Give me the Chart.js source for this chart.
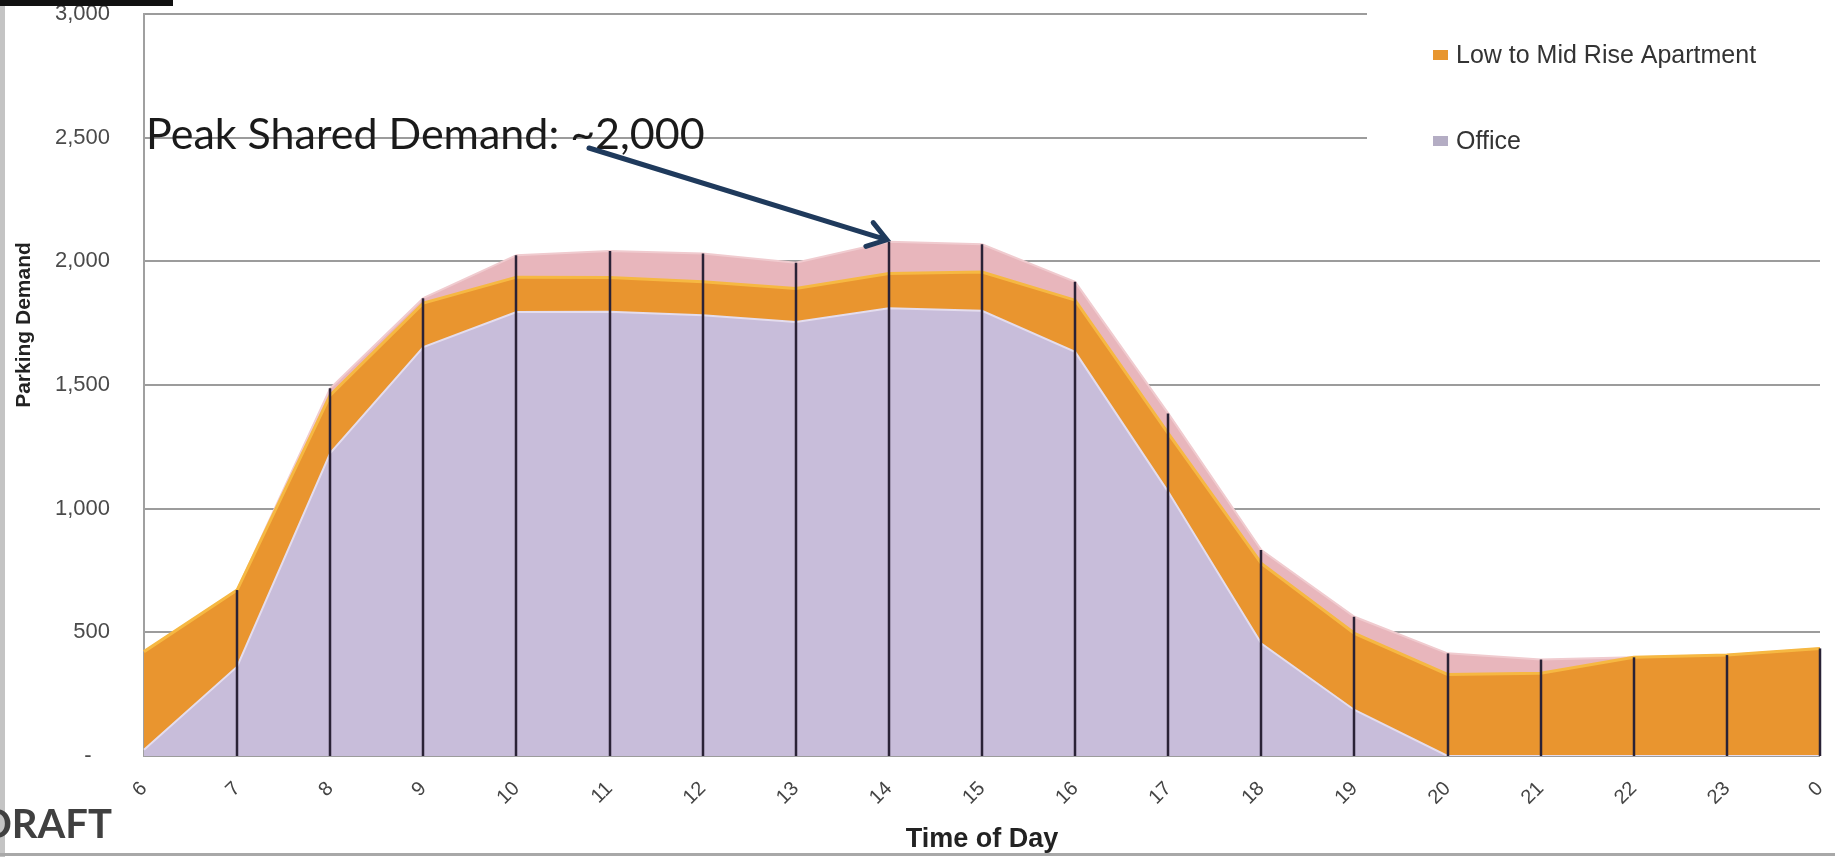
<!DOCTYPE html>
<html>
<head>
<meta charset="utf-8">
<title>Shared Parking Demand</title>
<script src="https://cdn.jsdelivr.net/npm/chart.js@4.4.1/dist/chart.umd.min.js"></script>
<style>
  html, body { margin: 0; padding: 0; background: #fff; }
  #wrap { width: 1835px; height: 857px; position: relative; }
</style>
</head>
<body>
<div id="wrap"><canvas id="demand-graph" width="1835" height="857"></canvas></div>
<script>
// hour of day, 6am through midnight
var hours = ['6', '7', '8', '9', '10', '11', '12', '13', '14', '15', '16', '17', '18', '19', '20', '21', '22', '23', '0'];

// parking demand by land use (spaces)
var office    = [25, 361, 1225, 1653, 1795, 1796, 1782, 1755, 1810, 1800, 1634, 1068, 455, 186, 0, 0, 0, 0, 0];
var apartment = [397, 310, 234, 178, 141, 139, 135, 135, 141, 157, 209, 236, 324, 310, 330, 335, 399, 408, 435];
var otherUses = [0, 0, 28, 20, 89, 107, 115, 104, 128, 112, 74, 81, 54, 67, 85, 55, 0, 0, 0];

var yTicks = [0, 500, 1000, 1500, 2000, 2500, 3000];
var yTickLabels = ['-   ', '500', '1,000', '1,500', '2,000', '2,500', '3,000'];

var legendItems = [
    { label: 'Low to Mid Rise Apartment', color: '#e8962f' },
    { label: 'Office', color: '#b4adc4' }
];

Chart.defaults.font.family = '"Liberation Sans", Arial, sans-serif';

function totalAt(i) {
    return office[i] + apartment[i] + otherUses[i];
}

var extras = {
    id: 'extras',
    beforeDatasetsDraw: function (chart) {
        // legend panel sits over the upper gridlines
        var ctx = chart.ctx;
        ctx.save();
        ctx.fillStyle = '#ffffff';
        ctx.fillRect(1367, 0, 470, 168);
        ctx.restore();
    },
    afterDatasetsDraw: function (chart) {
        // drop lines from each hour up to the stacked total
        var ctx = chart.ctx, xs = chart.scales.x, ys = chart.scales.y;
        ctx.save();
        ctx.strokeStyle = '#2a2236';
        ctx.lineWidth = 2.5;
        for (var i = 1; i < hours.length; i++) {
            var px = Math.round(xs.getPixelForValue(i));
            ctx.beginPath();
            ctx.moveTo(px, ys.getPixelForValue(0));
            ctx.lineTo(px, ys.getPixelForValue(totalAt(i)));
            ctx.stroke();
        }
        ctx.restore();
    },
    afterDraw: function (chart) {
        var ctx = chart.ctx, xs = chart.scales.x, ys = chart.scales.y;
        ctx.save();

        // frame
        ctx.fillStyle = '#c4c4c4';
        ctx.fillRect(0, 0, 5, 857);
        ctx.fillStyle = '#a8a8a8';
        ctx.fillRect(0, 853, 1835, 3);
        ctx.fillStyle = '#111';
        ctx.fillRect(0, 0, 173, 6);

        // legend
        ctx.font = '25px "Liberation Sans", Arial, sans-serif';
        ctx.textBaseline = 'middle';
        ctx.textAlign = 'left';
        legendItems.forEach(function (item, k) {
            var cy = 56 + k * 86;
            ctx.fillStyle = item.color;
            ctx.fillRect(1433, cy - 6, 15, 10);
            ctx.fillStyle = '#333';
            ctx.fillText(item.label, 1456, cy);
        });

        // y axis title
        ctx.save();
        ctx.translate(24, 325);
        ctx.rotate(-Math.PI / 2);
        ctx.font = 'bold 21px "Liberation Sans", Arial, sans-serif';
        ctx.textAlign = 'center';
        ctx.fillStyle = '#222';
        ctx.fillText('Parking Demand', 0, 0);
        ctx.restore();

        // peak callout
        ctx.font = '43px Lato, "Open Sans", sans-serif';
        ctx.textAlign = 'left';
        ctx.textBaseline = 'alphabetic';
        ctx.fillStyle = '#1a1a1a';
        ctx.fillText('Peak Shared Demand: ~2,000', 146, 149);

        var peak = 0;
        for (var i = 1; i < hours.length; i++) {
            if (totalAt(i) > totalAt(peak)) peak = i;
        }
        var tx = xs.getPixelForValue(peak) - 2;
        var ty = ys.getPixelForValue(totalAt(peak)) - 2;
        var sx = 589, sy = 148;
        var ang = Math.atan2(ty - sy, tx - sx);
        ctx.strokeStyle = '#1f3a5c';
        ctx.lineWidth = 5;
        ctx.lineCap = 'round';
        ctx.beginPath();
        ctx.moveTo(sx, sy);
        ctx.lineTo(tx, ty);
        ctx.moveTo(tx - 22 * Math.cos(ang - 0.6), ty - 22 * Math.sin(ang - 0.6));
        ctx.lineTo(tx, ty);
        ctx.lineTo(tx - 22 * Math.cos(ang + 0.6), ty - 22 * Math.sin(ang + 0.6));
        ctx.stroke();

        // draft stamp
        ctx.font = 'bold 40px Lato, "Open Sans", sans-serif';
        ctx.textAlign = 'right';
        ctx.fillStyle = '#404040';
        ctx.fillText('DRAFT', 112, 838);

        ctx.restore();
    }
};

var ctx = document.getElementById('demand-graph').getContext('2d');

var demandChart = new Chart(ctx, {
    type: 'line',
    data: {
        labels: hours,
        datasets: [{
            label: 'Office',
            data: office,
            backgroundColor: '#c8bdda',
            borderColor: '#e4ddee',
            borderWidth: 2,
            fill: 'origin'
        }, {
            label: 'Low to Mid Rise Apartment',
            data: apartment,
            backgroundColor: '#e9952f',
            borderColor: '#f6b842',
            borderWidth: 3,
            fill: '-1'
        }, {
            label: 'Other',
            data: otherUses,
            backgroundColor: '#e8b6bc',
            borderColor: '#f0cbcf',
            borderWidth: 2,
            fill: '-1'
        }]
    },
    options: {
        responsive: false,
        animation: false,
        layout: { padding: { top: 14, right: 15, bottom: 0, left: 0 } },
        elements: {
            point: { radius: 0, hoverRadius: 0 },
            line: { tension: 0 }
        },
        plugins: {
            legend: { display: false },
            tooltip: { enabled: false }
        },
        scales: {
            x: {
                offset: false,
                grid: { display: false },
                border: { display: false },
                ticks: {
                    minRotation: 45,
                    maxRotation: 45,
                    padding: 13,
                    color: '#444',
                    font: { size: 20 }
                },
                title: {
                    display: true,
                    text: 'Time of Day',
                    color: '#222',
                    font: { size: 27, weight: 'bold' },
                    padding: { top: 0, bottom: 1 }
                },
                afterFit: function (scale) {
                    scale.height = 101;
                    scale.paddingLeft = 0;
                    scale.paddingRight = 0;
                }
            },
            y: {
                stacked: true,
                min: 0,
                max: 3000,
                grid: { color: '#9c9c9c', lineWidth: 2, drawTicks: false },
                border: { display: true, color: '#a0a0a0', width: 2 },
                afterBuildTicks: function (scale) {
                    scale.ticks = yTicks.map(function (v) { return { value: v }; });
                },
                ticks: {
                    padding: 34,
                    color: '#4a4a4a',
                    font: { size: 22 },
                    callback: function (value) {
                        return yTickLabels[yTicks.indexOf(value)];
                    }
                },
                afterFit: function (scale) {
                    scale.width = 144;
                    scale.paddingTop = 0;
                    scale.paddingBottom = 0;
                }
            }
        }
    },
    plugins: [extras]
});
</script>
</body>
</html>
